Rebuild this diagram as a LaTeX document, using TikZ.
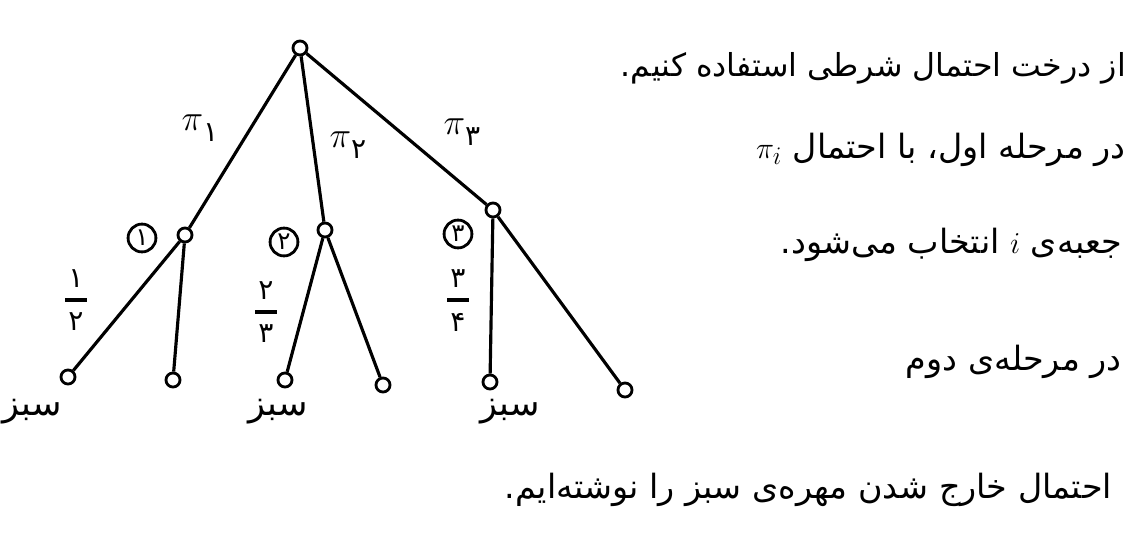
\documentclass[tikz,border=0pt]{standalone}
\usepackage{fontspec}
\newfontfamily\fa[Script=Arabic]{DejaVu Sans}
\TeXXeTstate=1

\tikzset{
  knot/.style={circle,draw,line width=1.6pt,inner sep=0pt,minimum size=8pt,fill=white},
  boxnum/.style={circle,draw,line width=1.6pt,inner sep=1.5pt,font=\fa\fontsize{14}{16}\selectfont},
  branch/.style={line width=1.8pt},
  digit/.style={inner sep=0pt,font=\fa\fontsize{16}{16}\selectfont},
  txt/.style={anchor=east,font=\fa\fontsize{19}{23}\selectfont}
}

\begin{document}
\begin{tikzpicture}[x=0.02cm,y=-0.02cm,font=\fontsize{22}{26}\selectfont]
      \useasboundingbox (0,0) rectangle (1143,545);
      % tree
      \node[knot] (r) at (300,48) {};
      \node[knot] (b1) at (185,235) {};
      \node[knot] (b2) at (325,230) {};
      \node[knot] (b3) at (493,210) {};
      \node[knot] (l1) at (68,377) {};
      \node[knot] (l2) at (173,380) {};
      \node[knot] (l3) at (285,380) {};
      \node[knot] (l4) at (383,385) {};
      \node[knot] (l5) at (490,382) {};
      \node[knot] (l6) at (625,390) {};
      \foreach \a/\b in {r/b1,r/b2,r/b3,b1/l1,b1/l2,b2/l3,b2/l4,b3/l5,b3/l6} {
          \draw[branch] (\a) -- (\b);
        }

      \node (p1) at (200,128) {$\pi$\raisebox{-0.7ex}{\fa\fontsize{16}{18}\selectfont ۱}};
      \node (p2) at (348,145) {$\pi$\raisebox{-0.7ex}{\fa\fontsize{16}{18}\selectfont ۲}};
      \node (p3) at (462,132) {$\pi$\raisebox{-0.7ex}{\fa\fontsize{16}{18}\selectfont ۳}};

      \node[boxnum] (c1) at (142,238) {۱};
      \node[boxnum] (c2) at (284,242) {۲};
      \node[boxnum] (c3) at (458,234) {۳};

      % fractions on the green branches
      \foreach \f/\x/\y/\n/\d in {f1/76/300/۱/۲,f2/266/312/۲/۳,f3/458/300/۳/۴} {
          \node[digit] (\f n) at (\x,\y-21) {\n};
          \node[inner sep=0pt] (\f b) at (\x,\y) {\rule{0.44cm}{1.8pt}};
          \node[digit] (\f d) at (\x,\y+22) {\d};
        }

      \foreach \l/\x in {l1/32,l3/278,l5/510} {
          \node[font=\fa\fontsize{20}{24}\selectfont] at (\x,412) {\beginR سبز\endR};
        }

      % notes
      \node[txt,font=\fa\fontsize{18}{22}\selectfont] (t1) at (1132,68) {\beginR از درخت احتمال شرطی استفاده کنیم.\endR};
      \node[txt] (t2) at (1132,150) {\beginR در مرحله اول، با احتمال \beginL$\pi_i$\endL\endR};
      \node[txt] (t3) at (1128,245) {\beginR جعبه‌ی \beginL$i$\endL{} انتخاب می‌شود.\endR};
      \node[txt] (t4) at (1128,362) {\beginR در مرحله‌ی دوم\endR};
      \node[txt] (t5) at (1118,490) {\beginR احتمال خارج شدن مهره‌ی سبز را نوشته‌ایم.\endR};
    \end{tikzpicture}
\end{document}
